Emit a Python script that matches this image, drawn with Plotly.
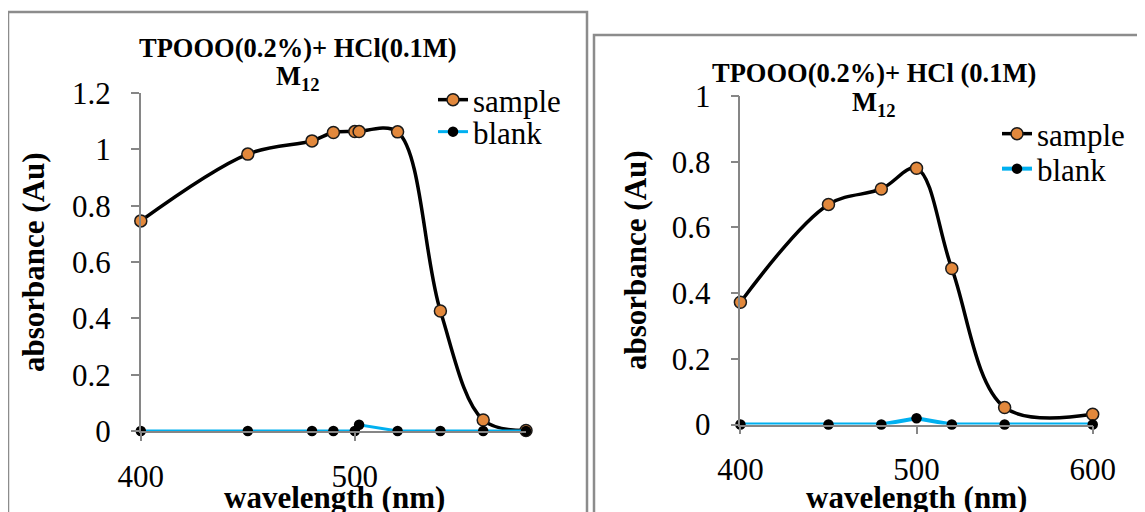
import plotly.graph_objects as go

# ---- data ----
left_wavelength = [400, 450, 480, 490, 500, 502, 520, 540, 560, 580]
left_sample = [0.746, 0.983, 1.030, 1.060, 1.063, 1.063, 1.062, 0.426, 0.039, 0.002]
left_blank = [0, 0, 0, 0, 0, 0.022, 0, 0, 0, 0]

right_wavelength = [400, 450, 480, 500, 520, 550, 600]
right_sample = [0.372, 0.670, 0.717, 0.780, 0.475, 0.052, 0.031]
right_blank = [0, 0, 0, 0.019, 0, 0, 0]

left_yticks = [0, 0.2, 0.4, 0.6, 0.8, 1, 1.2]
left_ytext = ["0", "0.2", "0.4", "0.6", "0.8", "1", "1.2"]
left_xticks = [400, 500]
right_yticks = [0, 0.2, 0.4, 0.6, 0.8, 1]
right_ytext = ["0", "0.2", "0.4", "0.6", "0.8", "1"]
right_xticks = [400, 500, 600]

left_title = "TPOOO(0.2%)+ HCl(0.1M)"
right_title = "TPOOO(0.2%)+ HCl (0.1M)"
subtitle = "M<sub>12</sub>"
x_title = "wavelength (nm)"
y_title = "absorbance (Au)"

W, H = 1145, 512
OFF = 8  # page body margin offset
def px(x):
    return (x - OFF) / W
def py(y):
    return 1 - (y - OFF) / H

FONT = "Liberation Serif, Times New Roman, serif"
ORANGE = "#e2883c"
CYAN = "#00b0f0"
AXIS = "#868686"

fig = go.Figure()

def add_pair(xs, s, b, xa, ya, lg_s, lg_b, bw):
    fig.add_trace(go.Scatter(
        x=xs, y=s, name="sample", mode="lines+markers",
        line=dict(color="black", width=3.5, shape="spline", smoothing=1),
        marker=dict(color=ORANGE, size=12, line=dict(color="#1a1a1a", width=1.5)),
        xaxis=xa, yaxis=ya, legend=lg_s, cliponaxis=False))
    fig.add_trace(go.Scatter(
        x=xs, y=b, name="blank", mode="lines+markers",
        line=dict(color=CYAN, width=bw),
        marker=dict(color="black", size=10.5),
        xaxis=xa, yaxis=ya, legend=lg_b, cliponaxis=False))

add_pair(left_wavelength, left_sample, left_blank, "x", "y", "legend", "legend2", 3)
add_pair(right_wavelength, right_sample, right_blank, "x2", "y2", "legend3", "legend4", 4)

axis_common = dict(showline=True, linecolor=AXIS, linewidth=1.5, ticks="outside",
                   ticklen=8, tickcolor=AXIS, tickwidth=1.5, showgrid=False,
                   zeroline=False, automargin=False,
                   tickfont=dict(family=FONT, size=31, color="black"))

fig.update_layout(
    template="none",
    width=W, height=H, autosize=False,
    margin=dict(l=0, r=0, t=0, b=0, pad=0, autoexpand=False),
    paper_bgcolor="white", plot_bgcolor="white",
    xaxis=dict(domain=[px(140.8), px(526)], range=[400, 580], anchor="y",
               tickvals=left_xticks, ticklabelstandoff=9, **axis_common),
    yaxis=dict(domain=[py(431), py(93)], range=[0, 1.2], anchor="x",
               tickvals=left_yticks, ticktext=left_ytext, ticklabelstandoff=14, **axis_common),
    xaxis2=dict(domain=[px(740.4), px(1092.7)], range=[400, 600], anchor="y2",
                tickvals=right_xticks, ticklabelstandoff=9, **axis_common),
    yaxis2=dict(domain=[py(424.5), py(96)], range=[0, 1], anchor="x2",
                tickvals=right_yticks, ticktext=right_ytext, ticklabelstandoff=14, **axis_common),
    showlegend=True,
)

def legend_at(x, y):
    return dict(x=px(x), y=py(y), xanchor="left", yanchor="middle",
                bgcolor="rgba(0,0,0,0)", borderwidth=0,
                font=dict(family=FONT, size=31, color="black"))

fig.update_layout(
    legend=legend_at(433, 100),
    legend2=legend_at(433, 132),
    legend3=legend_at(997, 134),
    legend4=legend_at(997, 169),
)

ann = []
def text(x, y, t, size, bold=False, angle=0):
    ann.append(dict(x=px(x), y=py(y), xref="paper", yref="paper", text=(f"<b>{t}</b>" if bold else t),
                    showarrow=False, xanchor="center", yanchor="middle", textangle=angle,
                    font=dict(family=FONT, size=size, color="black")))

text(297.6, 48, left_title, 26.5, bold=True)
text(297.6, 78, subtitle, 26.5, bold=True)
text(874.4, 73, right_title, 26.5, bold=True)
text(874.4, 104, subtitle, 26.5, bold=True)
text(334, 497, x_title, 31, bold=True)
text(916, 497, x_title, 31, bold=True)
text(33, 262, y_title, 31, bold=True, angle=-90)
text(635, 260, y_title, 31, bold=True, angle=-90)
fig.update_layout(annotations=ann)

# chart-area borders (bottom / right edges run off the picture)
fig.add_shape(type="rect", xref="paper", yref="paper", x0=px(8), x1=px(587), y0=-0.02, y1=py(12),
              line=dict(color="#8c8c8c", width=2.5), layer="below")
fig.add_shape(type="rect", xref="paper", yref="paper", x0=px(594), x1=1.02, y0=-0.02, y1=py(35),
              line=dict(color="#8c8c8c", width=2.5), layer="below")

fig.write_html("out.html")
